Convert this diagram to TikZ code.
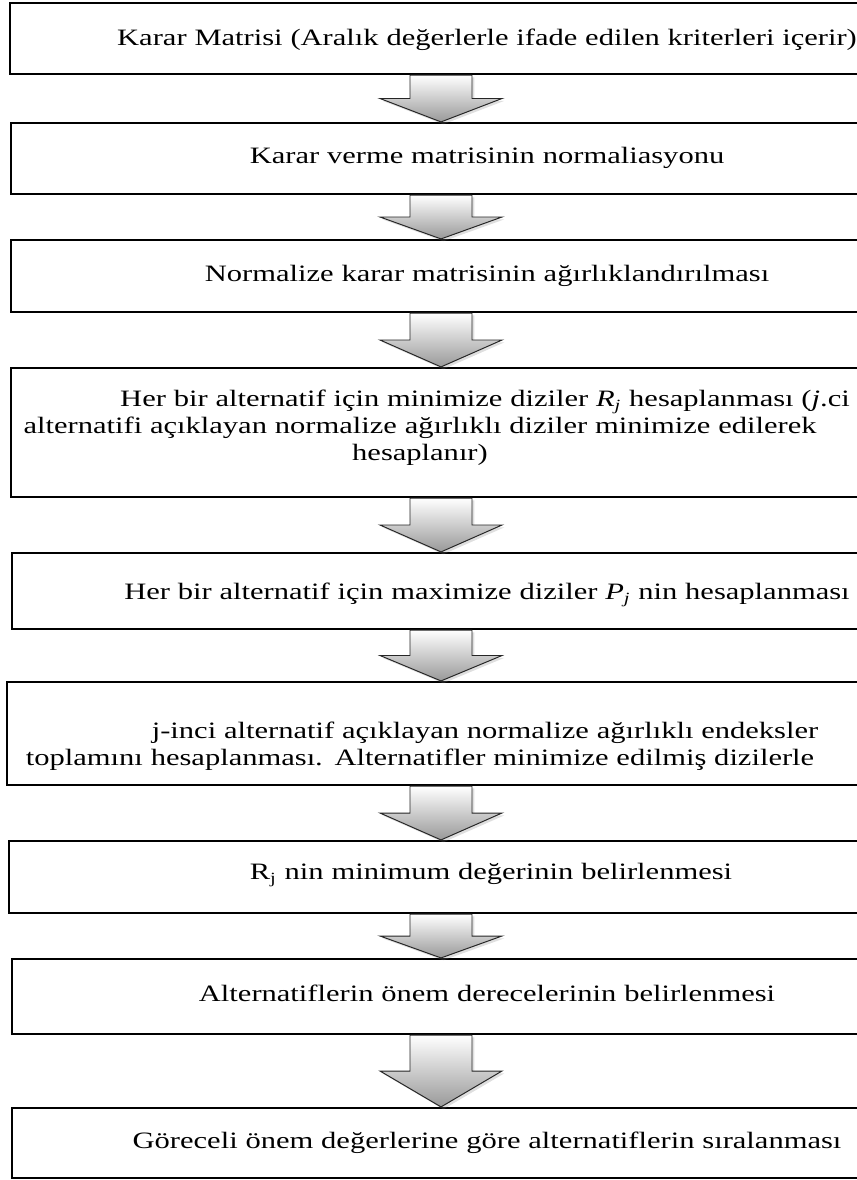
\documentclass[tikz,border=0pt]{standalone}
\usepackage{fontspec}
\setmainfont{Liberation Serif}[FakeStretch=1.3]
\usepackage{tikz}
\usetikzlibrary{calc, shadows}

% one pixel of the original figure
\newlength{\pu}
\setlength{\pu}{0.511pt}
\newcommand{\firstind}{\hspace*{130\pu}}

% block arrow from the bottom of one box to the top of the next
\newcommand{\blockarrow}[2]{%
    \coordinate (atop) at (#1.south);
    \coordinate (atip) at (#2.north);
    \coordinate (amid) at ($(atop)!0.5!(atip)$);
    \draw[blockshape] ($(atop)+(-31,0)$) -- ($(atop)+(31,0)$) -- ($(amid)+(31,0)$) -- ($(amid)+(61,0)$)
        -- (atip) -- ($(amid)+(-61,0)$) -- ($(amid)+(-31,0)$) -- cycle;
}

\begin{document}
\begin{tikzpicture}[
            x=\pu, y=-\pu,
            stagebox/.style={rectangle, draw=black, line width=1.1pt, inner sep=0pt},
            stagetext/.style={align=center, text width=880\pu, inner sep=0pt, font=\fontsize{12}{13.8}\selectfont},
            blockshape/.style={draw=black!85, line width=0.5pt, top color=white, bottom color=black!40,
                drop shadow={opacity=0.25, shadow xshift=1.2pt, shadow yshift=-1.2pt}}
        ]
            \useasboundingbox (0,0) rectangle (857,1180);

% Process boxes
            \node[stagebox, minimum width=862\pu, minimum height=71\pu] (b1) at (441,38.5) {};
            \node[stagebox, minimum width=860\pu, minimum height=71\pu] (b2) at (441,158.5) {};
            \node[stagebox, minimum width=860\pu, minimum height=72\pu] (b3) at (441,276) {};
            \node[stagebox, minimum width=860\pu, minimum height=129\pu] (b4) at (441,432.5) {};
            \node[stagebox, minimum width=858\pu, minimum height=76\pu] (b5) at (441,591) {};
            \node[stagebox, minimum width=868\pu, minimum height=103\pu] (b6) at (441,733.5) {};
            \node[stagebox, minimum width=864\pu, minimum height=72\pu] (b7) at (441,877) {};
            \node[stagebox, minimum width=858\pu, minimum height=75\pu] (b8) at (441,996.5) {};
            \node[stagebox, minimum width=858\pu, minimum height=70\pu] (b9) at (441,1143) {};

% Box texts
            \node[stagetext] (t1) at (422,40) {\firstind Karar Matrisi (Aralık değerlerle ifade edilen kriterleri içerir)};
            \node[stagetext] (t2) at (422,158) {\firstind Karar verme matrisinin normaliasyonu};
            \node[stagetext] (t3) at (422,276) {\firstind Normalize karar matrisinin ağırlıklandırılması};
            \node[stagetext] (t4) at (420,428) {\firstind Her bir alternatif için minimize diziler \textit{R\textsubscript{j}} hesaplanması (\textit{j}.ci\\
                alternatifi açıklayan normalize ağırlıklı diziler minimize edilerek\\
                hesaplanır)};
            \node[stagetext] (t5) at (422,595) {\firstind Her bir alternatif için maximize diziler \textit{P\textsubscript{j}} nin hesaplanması};
            \node[stagetext] (t6) at (420,746) {\firstind j-inci alternatif açıklayan normalize ağırlıklı endeksler\\
                toplamını hesaplanması. Alternatifler minimize edilmiş dizilerle};
            \node[stagetext] (t7) at (426,875) {\firstind R\textsubscript{j} nin minimum değerinin belirlenmesi};
            \node[stagetext] (t8) at (422,993) {\firstind Alternatiflerin önem derecelerinin belirlenmesi};
            \node[stagetext] (t9) at (422,1143) {\firstind Göreceli önem değerlerine göre alternatiflerin sıralanması};

% Block arrows between the steps
            \blockarrow{b1}{b2}
            \blockarrow{b2}{b3}
            \blockarrow{b3}{b4}
            \blockarrow{b4}{b5}
            \blockarrow{b5}{b6}
            \blockarrow{b6}{b7}
            \blockarrow{b7}{b8}
            \blockarrow{b8}{b9}

        \end{tikzpicture}
\end{document}
